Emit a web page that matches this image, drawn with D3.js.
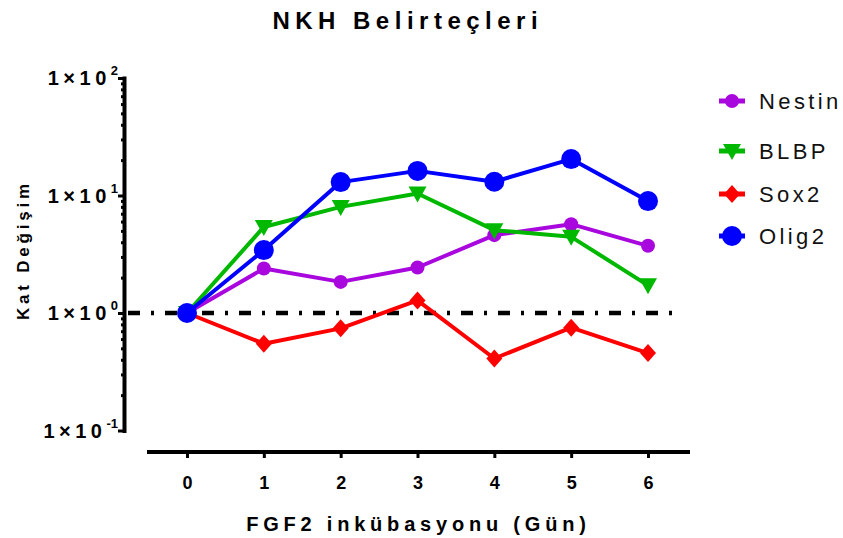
<!DOCTYPE html>
<html>
<head>
<meta charset="utf-8">
<script src="https://cdn.jsdelivr.net/npm/d3@7"></script>
<style>
  html, body { margin: 0; padding: 0; background: #fff; }
  svg { display: block; font-family: "Liberation Sans", Arial, sans-serif; }
</style>
</head>
<body>
<svg id="chart" width="843" height="538"></svg>
<script>
// Days of FGF2 incubation
const days = [0, 1, 2, 3, 4, 5, 6];

// Fold change per marker
const nestin = [1, 2.39, 1.84, 2.44, 4.6, 5.7, 3.73];
const blbp   = [1, 5.4, 8.0, 10.4, 5.07, 4.45, 1.72];
const sox2   = [1, 0.548, 0.74, 1.28, 0.41, 0.75, 0.456];
const olig2  = [1, 3.43, 13.0, 16.2, 13.1, 20.4, 8.96];

const seriesNames = ["Nestin", "BLBP", "Sox2", "Olig2"];
const yTickExponents = [-1, 0, 1, 2];

const series = [
  { name: seriesNames[0], values: nestin, color: "#A808DE", symbol: "circleS" },
  { name: seriesNames[1], values: blbp,   color: "#00B800", symbol: "triangleDown" },
  { name: seriesNames[2], values: sox2,   color: "#FF0000", symbol: "diamond" },
  { name: seriesNames[3], values: olig2,  color: "#0000FF", symbol: "circleL" }
];

const svg = d3.select("#chart");

const x = d3.scaleLinear().domain([0, 6]).range([187, 648]);
const y = d3.scaleLog().domain([0.1, 100]).range([430.5, 78]);

// Title
svg.append("text")
  .attr("x", 405 + 2.75).attr("y", 29)
  .attr("text-anchor", "middle")
  .attr("font-size", 24).attr("font-weight", "bold")
  .attr("letter-spacing", 5.5)
  .text("NKH Belirteçleri");

// Y axis: major ticks, then minor ticks
const majors = yTickExponents.map(e => Math.pow(10, e));
const minors = [];
for (let e = -1; e < 2; e++) for (let m = 2; m <= 9; m++) minors.push(m * Math.pow(10, e));

const yAxisG = svg.append("g").attr("transform", "translate(124,0)");
yAxisG.call(d3.axisLeft(y).tickValues(majors).tickSize(6).tickSizeOuter(0).tickFormat(""));
yAxisG.append("g").call(d3.axisLeft(y).tickValues(minors).tickSize(3).tickSizeOuter(0).tickFormat(""))
  .select(".domain").remove();
yAxisG.selectAll("path.domain").attr("stroke", "#000").attr("stroke-width", 4).attr("stroke-linecap", "square");
yAxisG.selectAll(".tick line").attr("stroke", "#000").attr("stroke-width", 3);

// Y tick labels as 1×10^n
yTickExponents.forEach(e => {
  const t = svg.append("text")
    .attr("x", 118).attr("y", y(Math.pow(10, e)) + 7)
    .attr("text-anchor", "end")
    .attr("font-weight", "bold");
  t.append("tspan").attr("font-size", 20).attr("letter-spacing", 4.5).text("1×10");
  t.append("tspan").attr("font-size", 13).attr("dy", -10).text(String(e));
});

// Y axis title
svg.append("text")
  .attr("transform", "translate(29,250) rotate(-90)")
  .attr("text-anchor", "middle")
  .attr("font-size", 17).attr("font-weight", "bold")
  .attr("letter-spacing", 3.8)
  .text("Kat Değişim");

// X axis
const xAxisG = svg.append("g").attr("transform", "translate(0,452)");
xAxisG.call(d3.axisBottom(x).tickValues(days).tickSize(6).tickSizeOuter(0).tickFormat(d3.format("d")));
xAxisG.select(".domain").attr("d", "M147,0H690").attr("stroke", "#000").attr("stroke-width", 4);
xAxisG.selectAll(".tick line").attr("stroke", "#000").attr("stroke-width", 3);
xAxisG.selectAll(".tick text")
  .attr("y", 37).attr("dy", 0)
  .attr("font-size", 18).attr("font-weight", "bold")
  .attr("font-family", "Liberation Sans, Arial, sans-serif")
  .attr("fill", "#000");

// X axis title
svg.append("text")
  .attr("x", 416 + 2.4).attr("y", 531)
  .attr("text-anchor", "middle")
  .attr("font-size", 20).attr("font-weight", "bold")
  .attr("letter-spacing", 4.8)
  .text("FGF2 inkübasyonu (Gün)");

// Reference line at fold change 1
svg.append("line")
  .attr("x1", 128).attr("x2", 680)
  .attr("y1", y(1)).attr("y2", y(1))
  .attr("stroke", "#000").attr("stroke-width", 4.5)
  .attr("stroke-dasharray", "12,11,3,11");

// Marker shapes
function drawMarker(g, sym, color, cx, cy) {
  if (sym === "circleL") {
    g.append("circle").attr("cx", cx).attr("cy", cy).attr("r", 10).attr("fill", color);
  } else if (sym === "circleS") {
    g.append("circle").attr("cx", cx).attr("cy", cy).attr("r", 7).attr("fill", color);
  } else if (sym === "triangleDown") {
    g.append("path")
      .attr("d", `M${cx - 9},${cy - 7}L${cx + 9},${cy - 7}L${cx},${cy + 9}Z`)
      .attr("fill", color);
  } else if (sym === "diamond") {
    g.append("path")
      .attr("d", `M${cx},${cy - 9}L${cx + 8},${cy}L${cx},${cy + 9}L${cx - 8},${cy}Z`)
      .attr("fill", color);
  }
}

const line = d3.line().x((d, i) => x(days[i])).y(d => y(d));

series.forEach(s => {
  const g = svg.append("g");
  g.append("path")
    .attr("d", line(s.values))
    .attr("fill", "none")
    .attr("stroke", s.color)
    .attr("stroke-width", 4)
    .attr("stroke-linejoin", "round");
  s.values.forEach((v, i) => drawMarker(g, s.symbol, s.color, x(days[i]), y(v)));
});

// Legend
const legendY = [101, 151, 194, 236];
series.forEach((s, i) => {
  const g = svg.append("g");
  g.append("line")
    .attr("x1", 719).attr("x2", 745)
    .attr("y1", legendY[i]).attr("y2", legendY[i])
    .attr("stroke", s.color).attr("stroke-width", 5);
  drawMarker(g, s.symbol, s.color, 732, legendY[i]);
  g.append("text")
    .attr("x", 759).attr("y", legendY[i] + 8)
    .attr("font-size", 22)
    .attr("letter-spacing", 3.4)
    .attr("fill", "#111")
    .text(s.name);
});
</script>
</body>
</html>
